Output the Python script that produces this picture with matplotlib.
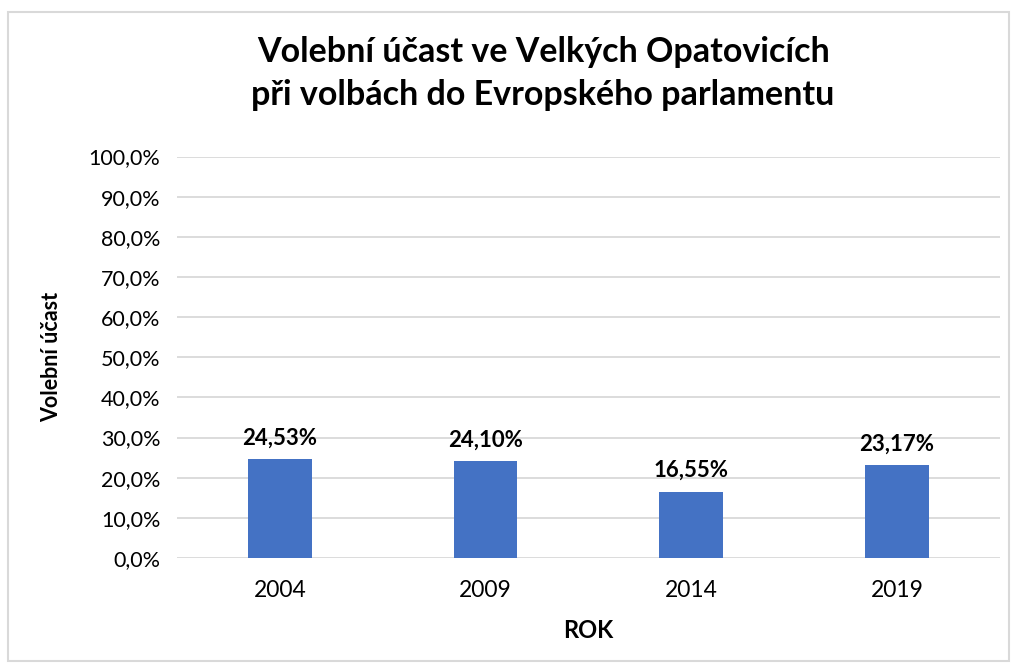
import matplotlib.pyplot as plt
from matplotlib.patches import Rectangle
from matplotlib.ticker import FuncFormatter

roky = ["2004", "2009", "2014", "2019"]
ucast = [24.53, 24.10, 16.55, 23.17]

plt.rcParams['font.family'] = ['Lato', 'DejaVu Sans']

fig = plt.figure(figsize=(10.17, 6.69), dpi=100)
ax = fig.add_axes([0.174, 0.166, 0.809, 0.600])

x = range(len(roky))
ax.bar(x, ucast, width=0.31, color="#4472C4", zorder=3)

for xi, v in zip(x, ucast):
    ax.text(xi, v + 2.6, f"{v:.2f}%".replace(".", ","), ha="center", va="bottom",
            fontsize=16, fontweight="bold", color="black")

ax.set_xlim(-0.5, 3.5)
ax.set_ylim(0, 100)
ax.set_yticks(range(0, 101, 10))
ax.yaxis.set_major_formatter(FuncFormatter(lambda v, p: f"{v:.1f}%".replace(".", ",")))
ax.set_xticks(list(x))
ax.set_xticklabels(roky)
ax.tick_params(axis="y", length=0, labelsize=15.5, colors="black", pad=12)
ax.tick_params(axis="x", length=0, labelsize=16.5, colors="black", pad=16)
ax.grid(axis="y", color="#D9D9D9", linewidth=1.3, zorder=0)
for s in ax.spines.values():
    s.set_visible(False)

ax.set_ylabel("Volební účast", fontsize=15.5, fontweight="bold", labelpad=19)
ax.set_xlabel("ROK", fontsize=17, fontweight="bold", labelpad=13)

fig.text(0.534, 0.89, "Volební účast ve Velkých Opatovicích\npři volbách do Evropského parlamentu",
         ha="center", va="center", fontsize=24.5, fontweight="bold", linespacing=1.45)

fig.patches.append(Rectangle((0.008, 0.012), 0.984, 0.970, transform=fig.transFigure,
                             fill=False, edgecolor="#D9D9D9", linewidth=1.5))

fig.savefig("out.png", dpi=100)
